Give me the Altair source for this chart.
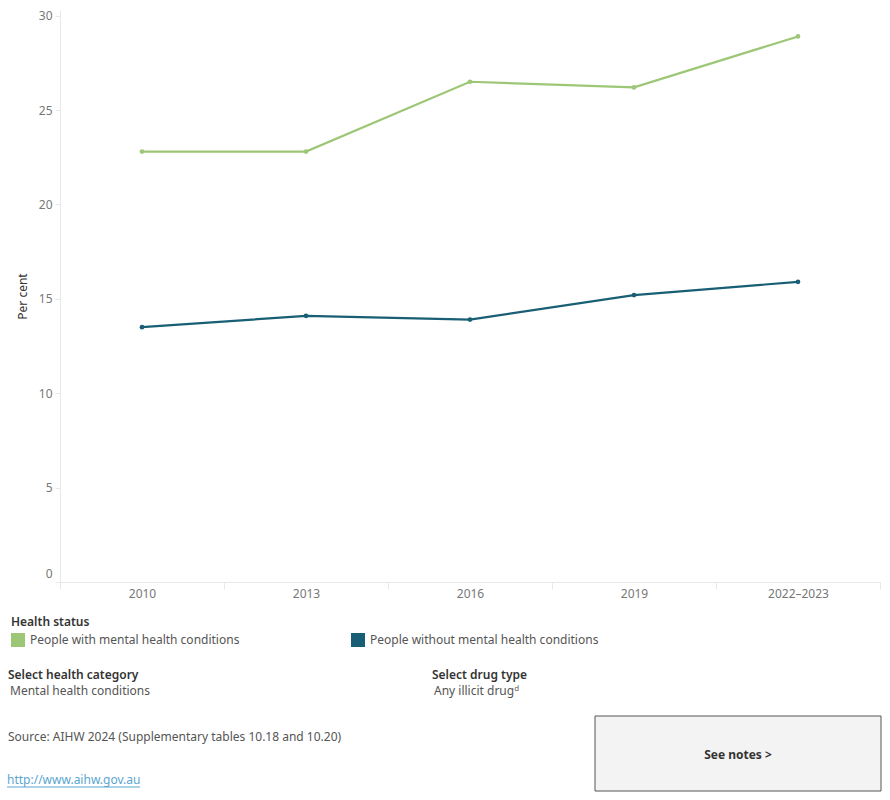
import altair as alt
import pandas as pd

years = ["2010", "2013", "2016", "2019", "2022–2023"]
with_mh = [22.8, 22.8, 26.5, 26.2, 28.9]
without_mh = [13.5, 14.1, 13.9, 15.2, 15.9]
series_names = ["People with mental health conditions", "People without mental health conditions"]
series_colors = ["#9dc776", "#185e74"]

rows = []
for y, v in zip(years, with_mh):
    rows.append({"year": y, "value": v, "status": series_names[0]})
for y, v in zip(years, without_mh):
    rows.append({"year": y, "value": v, "status": series_names[1]})
df = pd.DataFrame(rows)

FONT = "Noto Sans"
FS = 12

x_enc = alt.X(
    "year:N",
    sort=years,
    bandPosition=0.5,
    scale=alt.Scale(type="band", paddingInner=0, paddingOuter=0),
    axis=alt.Axis(
        title=None, labelAngle=0, tickBand="extent", domainColor="#e8e8e8",
        tickColor="#e8e8e8", tickSize=7, labelColor="#777777", labelFontSize=FS,
        labelPadding=-1, labelFont=FONT, grid=False,
    ),
)
y_enc = alt.Y(
    "value:Q",
    scale=alt.Scale(domain=[0, 30.3], nice=False, zero=True),
    axis=alt.Axis(
        title="Per cent", values=[0, 5, 10, 15, 20, 25, 30], grid=False,
        domainColor="#e8e8e8", tickColor="#e8e8e8", tickSize=5,
        labelColor="#777777", labelFontSize=FS, labelFont=FONT, labelPadding=3,
        labelFlush=1, labelFlushOffset=-2,
        titleFont=FONT, titleFontSize=FS, titleFontWeight="normal", titleColor="#333333",
        titlePadding=9,
    ),
)
color_enc = alt.Color(
    "status:N",
    sort=series_names,
    scale=alt.Scale(domain=series_names, range=series_colors),
    legend=alt.Legend(
        title="Health status", orient="none", legendX=-49, legendY=607,
        direction="horizontal", columns=2, columnPadding=111,
        symbolType="square", symbolSize=196, symbolStrokeWidth=0, symbolOpacity=1,
        labelFont=FONT, labelFontSize=FS, labelColor="#555555", labelOffset=5,
        titleFont=FONT, titleFontSize=FS, titleFontWeight=600, titleColor="#333333",
        titlePadding=4, labelLimit=400,
    ),
)

base = alt.Chart(df)
lines = base.mark_line(strokeWidth=2.2).encode(x=x_enc, y=y_enc, color=color_enc)
points = base.mark_circle(size=22, opacity=1).encode(
    x=x_enc, y=y_enc,
    color=alt.Color("status:N", sort=series_names,
                    scale=alt.Scale(domain=series_names, range=series_colors), legend=None))

one = alt.Data(values=[{"a": 1}])

def txt(s, x, y, size=FS, weight="normal", color="#555555", align="left"):
    return alt.Chart(one).mark_text(
        text=s, font=FONT, fontSize=size, fontWeight=weight, color=color,
        align=align, baseline="middle",
    ).encode(x=alt.value(x), y=alt.value(y))

annotations = [
    txt("Select health category", -52, 665, weight=600, color="#333333"),
    txt("Mental health conditions", -50, 681),
    txt("Select drug type", 372, 665, weight=600, color="#333333"),
    txt("Any illicit drugᵈ", 374, 681),
    txt("Source: AIHW 2024 (Supplementary tables 10.18 and 10.20)", -52, 727),
    txt("http://www.aihw.gov.au", -53, 770, color="#5aa6cf"),
]
underline = alt.Chart(one).mark_rule(color="#5aa6cf", strokeWidth=1).encode(
    x=alt.value(-53), x2=alt.value(80), y=alt.value(777))
box = alt.Chart(one).mark_rect(fill="#f3f3f3", stroke="#555555", strokeWidth=1).encode(
    x=alt.value(535), x2=alt.value(821), y=alt.value(706), y2=alt.value(781))
notes = txt("See notes >", 678, 745, weight="bold", color="#333333", align="center")

chart = alt.layer(lines, points, *annotations, underline, box, notes).properties(
    width=820, height=572,
    autosize=alt.AutoSizeParams(type="none"),
    padding={"left": 60, "top": 10, "right": 10, "bottom": 218},
    background="white",
).configure_view(strokeWidth=0, strokeOpacity=0)

chart.save("out.html", embed_options={"renderer": "svg", "actions": False})
